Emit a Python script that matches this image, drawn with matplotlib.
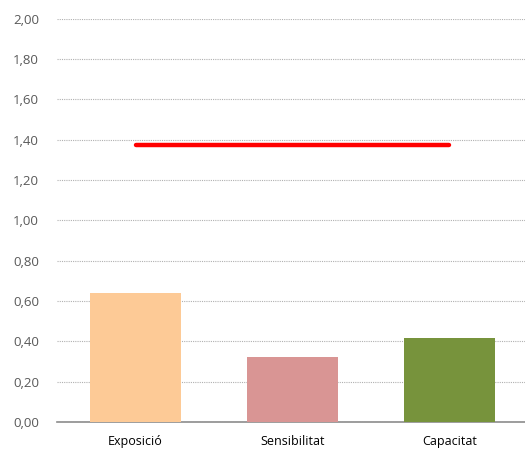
from matplotlib import pyplot as plt
from matplotlib.ticker import FuncFormatter
import numpy as np

categories = ['Exposició', 'Sensibilitat', 'Capacitat']
valors = [0.64, 0.32, 0.415]
colors = ['#fdca96', '#d99594', '#77933c']
referencia = 1.375

fig = plt.figure(figsize=(5.25, 4.5), dpi=100)
ax = fig.add_axes([0.1086, 0.0622, 0.897, 0.896])

x = np.arange(len(categories))
ax.bar(x, valors, width=0.575, color=colors, zorder=3)
ax.plot([x[0], x[-1]], [referencia, referencia], color='#ff0000', linewidth=3.2,
        solid_capstyle='round', zorder=4)

ax.set_xlim(-0.5, len(categories) - 0.5)
ax.set_ylim(0, 2.0)
ax.set_yticks(np.arange(0, 2.01, 0.2))
ax.yaxis.set_major_formatter(FuncFormatter(lambda v, p: f'{v:.2f}'.replace('.', ',')))
ax.set_xticks(x)
ax.set_xticklabels(categories)

ax.grid(axis='y', linestyle=(0, (1, 1)), color='#b0b0b0', linewidth=0.8, zorder=0)
for s in ['top', 'right', 'left']:
    ax.spines[s].set_visible(False)
ax.spines['bottom'].set_color('#8c8c8c')
ax.spines['bottom'].set_linewidth(1.2)
ax.tick_params(axis='y', length=0, pad=13, labelsize=9.5, labelcolor='#595959')
ax.tick_params(axis='x', length=0, pad=9.5, labelsize=9, labelcolor='#000000')
for t in ax.get_xticklabels() + ax.get_yticklabels():
    t.set_fontfamily('Open Sans')

plt.savefig('out.png', dpi=100)
